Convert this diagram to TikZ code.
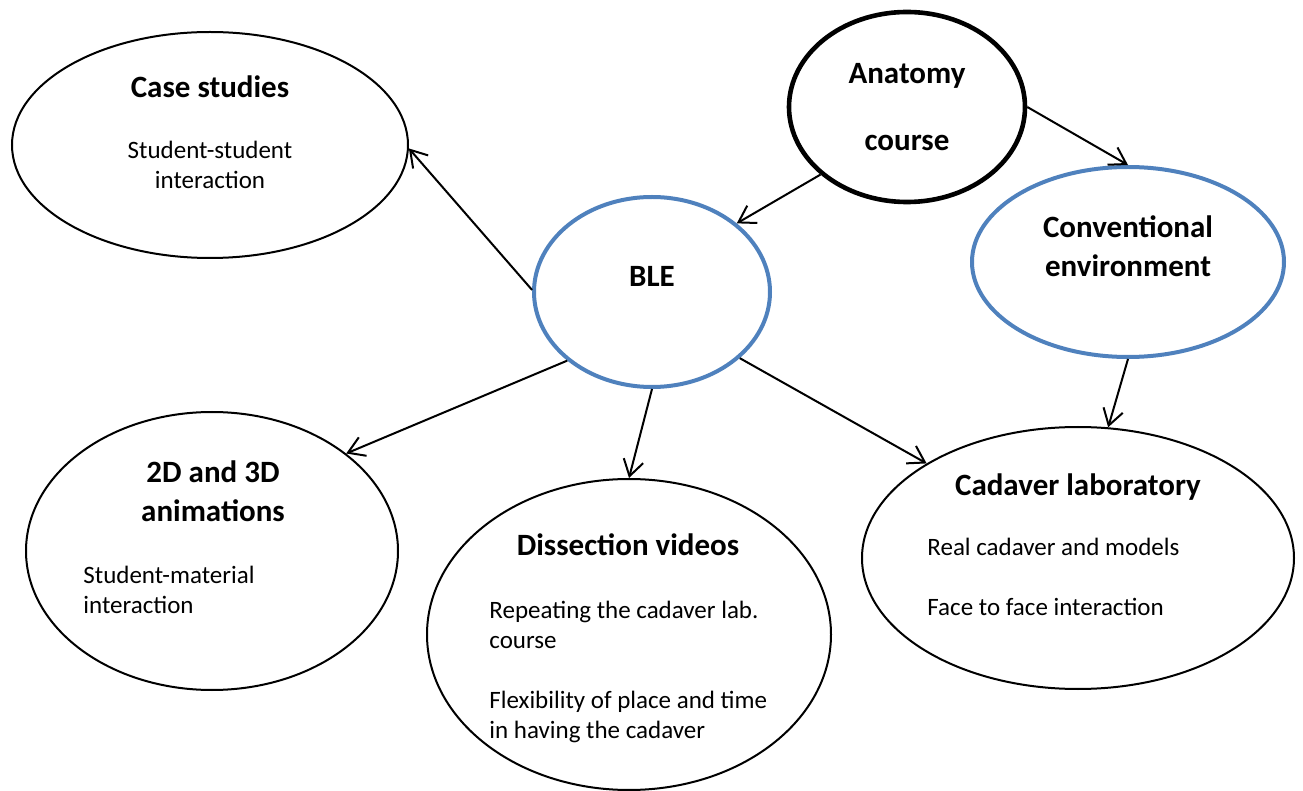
\documentclass[tikz,border=0pt]{standalone}
\usepackage{fontspec}
\setmainfont{Carlito}
\usetikzlibrary{shapes.geometric,arrows.meta}
\definecolor{bleblue}{HTML}{4F81BD}
\begin{document}
\begin{tikzpicture}[x=0.5pt,y=-0.5pt,
  bubble/.style={ellipse,draw=black,line width=1pt,inner sep=0pt},
  topic/.style={bubble,draw=bleblue,line width=2pt},
  root/.style={bubble,line width=2.3pt},
  headline/.style={font=\fontsize{15.5}{19.5}\selectfont\bfseries,align=center,anchor=base,inner sep=0pt},
  remark/.style={font=\fontsize{12.5}{15}\selectfont,align=left,anchor=base west,inner sep=0pt},
  remarkc/.style={font=\fontsize{12.5}{15}\selectfont,align=center,anchor=base,inner sep=0pt},
  link/.style={line width=1pt,-{Straight Barb[length=8pt,width=10pt,line width=1pt]}}]
\useasboundingbox (0,0) rectangle (1303,791);

% ellipses (sizes in pt, half the pixel extents)
\node[bubble,minimum width=198pt,minimum height=113pt] (case) at (210,145) {};
\node[root,minimum width=118pt,minimum height=95pt] (anat) at (907,107) {};
\node[topic,minimum width=118pt,minimum height=95pt] (ble) at (652,292) {};
\node[topic,minimum width=156pt,minimum height=95pt] (conv) at (1128,262) {};
\node[bubble,minimum width=186pt,minimum height=139pt] (anim) at (212,551) {};
\node[bubble,minimum width=202pt,minimum height=155.5pt] (diss) at (629,634.5) {};
\node[bubble,minimum width=216pt,minimum height=131pt] (lab) at (1078,558) {};

% texts (multi-line blocks sit on the baseline of their last line)
\node[headline] (caseT) at (210,98) {Case studies};
\node[remarkc] (caseR) at (210,189) {Student-student\\interaction};
\node[headline,font=\fontsize{15.5}{33.5}\selectfont\bfseries] (anatT) at (907,151) {Anatomy\\course};
\node[headline] (bleT) at (652,287) {BLE};
\node[headline] (convT) at (1128,277) {Conventional\\environment};
\node[headline] (animT) at (213,522) {2D and 3D\\animations};
\node[remark] (animR) at (83,613) {Student-material\\interaction};
\node[headline] (dissT) at (628,555) {Dissection videos};
\node[remark] (dissR) at (489,738) {Repeating the cadaver lab.\\course\\[15pt]Flexibility of place and time\\in having the cadaver};
\node[headline] (labT) at (1078,495) {Cadaver laboratory};
\node[remark] (labR) at (927,616) {Real cadaver and models\\[15pt]Face to face interaction};

% connectors
\draw[link] (anat.218.7) -- (ble.39);
\draw[link] (anat.-0.5) -- (conv.90);
\draw[link] (conv.-90) -- (lab.77.5);
\draw[link] (ble.179) -- (case.-1.5);
\draw[link] (ble.219) -- (anim.36.8);
\draw[link] (ble.-90) -- (diss.90.4);
\draw[link] (ble.-37.6) -- (lab.148.5);
\end{tikzpicture}
\end{document}
